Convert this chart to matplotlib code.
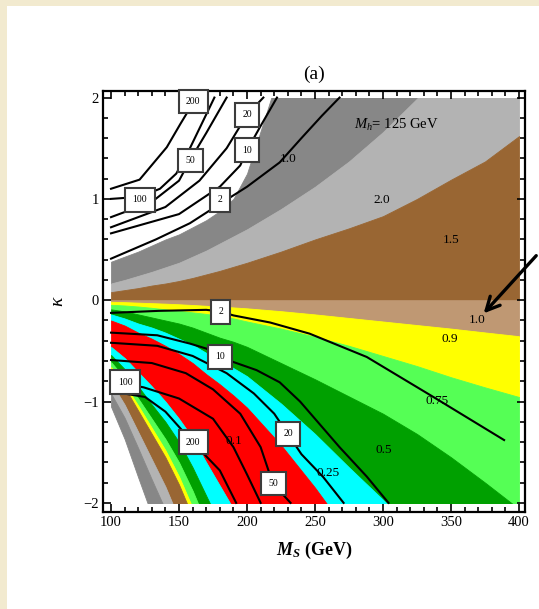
import matplotlib
matplotlib.use('Agg')
import matplotlib.pyplot as plt
from matplotlib.patches import Rectangle
from matplotlib.ticker import MultipleLocator

plt.rcParams['font.family'] = 'Liberation Serif'
plt.rcParams['mathtext.fontset'] = 'custom'
plt.rcParams['mathtext.rm'] = 'Liberation Serif'
plt.rcParams['mathtext.it'] = 'Liberation Serif:italic'
plt.rcParams['mathtext.bf'] = 'Liberation Serif:bold'
try:
    plt.rcParams['mathtext.bfit'] = 'Liberation Serif:bold:italic'
    xlab = r'$\mathbfit{M_S}$ (GeV)'
except KeyError:
    xlab = r'$M_S$ (GeV)'

# boundaries of the coloured regions, read at these M_S values
ms = [100, 110, 120, 130, 140, 150, 160, 170, 180, 190, 200, 225, 250, 275, 300, 325, 350, 375, 400]

# upper half (kappa > 0)
k_white = [0.38, 0.43, 0.48, 0.54, 0.60, 0.65, 0.72, 0.79, 0.88, 1.00, 1.25, 2.30, 2.5, 2.5, 2.5, 2.5, 2.5, 2.5, 2.5]
k_20 = [0.165, 0.20, 0.24, 0.28, 0.325, 0.37, 0.43, 0.49, 0.56, 0.63, 0.70, 0.90, 1.12, 1.37, 1.66, 1.99, 2.35, 2.5, 2.5]
k_15 = [0.08, 0.10, 0.12, 0.145, 0.165, 0.19, 0.22, 0.255, 0.29, 0.33, 0.37, 0.48, 0.60, 0.71, 0.83, 1.00, 1.19, 1.37, 1.62]

# lower half (kappa < 0), from the top down
k_09 = [-0.015, -0.019, -0.024, -0.029, -0.034, -0.04, -0.047, -0.055, -0.063, -0.071, -0.08, -0.108, -0.14, -0.175, -0.21, -0.245, -0.28, -0.318, -0.355]
k_075 = [-0.045, -0.052, -0.062, -0.075, -0.09, -0.105, -0.12, -0.135, -0.155, -0.18, -0.21, -0.28, -0.36, -0.45, -0.55, -0.65, -0.76, -0.86, -0.955]
k_05 = [-0.09, -0.11, -0.14, -0.17, -0.20, -0.23, -0.27, -0.32, -0.37, -0.41, -0.46, -0.62, -0.78, -0.95, -1.12, -1.32, -1.55, -1.80, -2.06]
k_025 = [-0.14, -0.18, -0.23, -0.27, -0.32, -0.38, -0.44, -0.52, -0.59, -0.67, -0.75, -1.02, -1.32, -1.65, -1.97, -2.30, -2.5, -2.5, -2.5]
k_01 = [-0.20, -0.25, -0.32, -0.38, -0.45, -0.53, -0.62, -0.73, -0.83, -0.94, -1.06, -1.43, -1.85, -2.31, -2.5, -2.5, -2.5, -2.5, -2.5]
k_01b = [-0.46, -0.57, -0.71, -0.85, -1.00, -1.17, -1.36, -1.60, -1.83, -2.06, -2.32, -2.5, -2.5, -2.5, -2.5, -2.5, -2.5, -2.5, -2.5]
k_025b = [-0.54, -0.68, -0.85, -1.03, -1.20, -1.40, -1.65, -1.93, -2.21, -2.49, -2.5, -2.5, -2.5, -2.5, -2.5, -2.5, -2.5, -2.5, -2.5]
k_05b = [-0.61, -0.77, -0.97, -1.17, -1.37, -1.60, -1.88, -2.20, -2.5, -2.5, -2.5, -2.5, -2.5, -2.5, -2.5, -2.5, -2.5, -2.5, -2.5]
k_075b = [-0.66, -0.83, -1.04, -1.26, -1.48, -1.74, -2.05, -2.39, -2.5, -2.5, -2.5, -2.5, -2.5, -2.5, -2.5, -2.5, -2.5, -2.5, -2.5]
k_10b = [-0.68, -0.86, -1.09, -1.32, -1.55, -1.82, -2.14, -2.5, -2.5, -2.5, -2.5, -2.5, -2.5, -2.5, -2.5, -2.5, -2.5, -2.5, -2.5]
k_15b = [-0.81, -1.03, -1.30, -1.57, -1.84, -2.16, -2.5, -2.5, -2.5, -2.5, -2.5, -2.5, -2.5, -2.5, -2.5, -2.5, -2.5, -2.5, -2.5]
k_20b = [-0.92, -1.16, -1.46, -1.77, -2.07, -2.44, -2.5, -2.5, -2.5, -2.5, -2.5, -2.5, -2.5, -2.5, -2.5, -2.5, -2.5, -2.5, -2.5]
k_whiteb = [-1.05, -1.37, -1.75, -2.12, -2.48, -2.5, -2.5, -2.5, -2.5, -2.5, -2.5, -2.5, -2.5, -2.5, -2.5, -2.5, -2.5, -2.5, -2.5]

c_dgrey = '#878787'
c_lgrey = '#b3b3b3'
c_brown = '#996633'
c_tan = '#bf9873'
c_yellow = '#ffff00'
c_lgreen = '#55ff55'
c_dgreen = '#00a000'
c_cyan = '#00ffff'
c_red = '#ff0000'

bands = [
    (k_white, k_20, c_dgrey), (k_20, k_15, c_lgrey), (k_15, [0] * len(ms), c_brown),
    ([0] * len(ms), k_09, c_tan), (k_09, k_075, c_yellow), (k_075, k_05, c_lgreen),
    (k_05, k_025, c_dgreen), (k_025, k_01, c_cyan), (k_01, k_01b, c_red),
    (k_01b, k_025b, c_cyan), (k_025b, k_05b, c_dgreen), (k_05b, k_075b, c_lgreen),
    (k_075b, k_10b, c_yellow), (k_10b, k_15b, c_brown), (k_15b, k_20b, c_lgrey),
    (k_20b, k_whiteb, c_dgrey),
]

# black contour lines (labelled 2, 10, 20, 50, 100, 200)
up_2_x = [100, 133, 158, 180, 200, 224, 240, 255, 268]
up_2_y = [0.41, 0.60, 0.76, 0.95, 1.12, 1.36, 1.60, 1.82, 2.0]
up_10_x = [100, 150, 180, 195, 200, 210, 222]
up_10_y = [0.66, 0.85, 1.12, 1.33, 1.48, 1.72, 2.0]
up_20_x = [100, 140, 165, 185, 200, 212]
up_20_y = [0.72, 0.92, 1.18, 1.50, 1.83, 2.0]
up_50_x = [100, 130, 150, 158, 170, 185]
up_50_y = [0.82, 0.97, 1.18, 1.38, 1.65, 2.0]
up_100_x = [100, 121, 136, 148, 158, 167, 176]
up_100_y = [1.00, 1.02, 1.10, 1.25, 1.50, 1.75, 2.0]
up_200_x = [100, 121, 141, 151, 160, 163]
up_200_y = [1.10, 1.19, 1.51, 1.74, 1.94, 2.0]

lo_2_x = [100, 135, 170, 180, 190, 217, 246, 288, 337, 389]
lo_2_y = [-0.125, -0.105, -0.095, -0.11, -0.15, -0.22, -0.33, -0.56, -0.955, -1.38]
lo_10_x = [100, 134, 158, 170, 190, 207, 224, 239, 268, 288, 304]
lo_10_y = [-0.32, -0.346, -0.428, -0.477, -0.61, -0.69, -0.81, -1.0, -1.45, -1.74, -2.0]
lo_20_x = [100, 134, 160, 185, 205, 220, 230, 240, 256, 271]
lo_20_y = [-0.42, -0.45, -0.55, -0.72, -0.92, -1.12, -1.32, -1.52, -1.745, -2.0]
lo_50_x = [100, 130, 155, 175, 195, 210, 219, 232]
lo_50_y = [-0.59, -0.62, -0.72, -0.88, -1.12, -1.45, -1.81, -2.0]
lo_100_x = [100, 124, 150, 175, 190, 200, 210]
lo_100_y = [-0.80, -0.86, -0.97, -1.17, -1.45, -1.72, -2.0]
lo_200_x = [100, 125, 140, 160, 180, 192]
lo_200_y = [-0.90, -0.955, -1.10, -1.40, -1.68, -2.0]

lines = [(up_2_x, up_2_y), (up_10_x, up_10_y), (up_20_x, up_20_y), (up_50_x, up_50_y),
         (up_100_x, up_100_y), (up_200_x, up_200_y), (lo_2_x, lo_2_y), (lo_10_x, lo_10_y),
         (lo_20_x, lo_20_y), (lo_50_x, lo_50_y), (lo_100_x, lo_100_y), (lo_200_x, lo_200_y)]

box_text = ['200', '20', '10', '50', '100', '2', '2', '10', '100', '200', '20', '50']
box_x = [160.5, 200, 200, 158.4, 121.3, 180, 180.6, 180.1, 110.3, 160.5, 230.4, 219.4]
box_y = [1.96, 1.83, 1.48, 1.38, 0.99, 0.99, -0.115, -0.56, -0.81, -1.40, -1.32, -1.81]

level_text = ['1.0', '2.0', '1.5', '1.0', '0.9', '0.75', '0.5', '0.25', '0.1']
level_x = [230.4, 299, 349.8, 368.9, 349.3, 339.5, 300.2, 259.8, 190]
level_y = [1.39, 0.99, 0.59, -0.20, -0.38, -0.99, -1.48, -1.71, -1.39]

fig = plt.figure(figsize=(5.39, 6.09), dpi=100)
fig.patches.append(Rectangle((0, 1 - 6 / 609), 1, 6 / 609, transform=fig.transFigure,
                             fc='#f2eacf', ec='none', zorder=-5))
fig.patches.append(Rectangle((0, 0), 6.5 / 539, 1, transform=fig.transFigure,
                             fc='#f2eacf', ec='none', zorder=-5))

ax = fig.add_axes([0.1911, 0.1593, 0.783, 0.6913])
clip = Rectangle((100, -2), 300, 4, transform=ax.transData)

for top, bot, col in bands:
    p = ax.fill_between(ms, top, bot, color=col, lw=0.6, zorder=1)
    p.set_clip_path(clip)

for x, y in lines:
    ax.plot(x, y, color='black', lw=1.5, zorder=3)

for s, x, y in zip(level_text, level_x, level_y):
    ax.text(x, y, s, ha='center', va='center', fontsize=9.5, zorder=4)

for s, x, y in zip(box_text, box_x, box_y):
    ax.text(x, y, s, ha='center', va='center', fontsize=7, zorder=5,
            bbox=dict(boxstyle='square,pad=0.75', fc='white', ec='#3c3c3c', lw=1.5))

ax.text(310, 1.73, r'$M_h$= 125 GeV', ha='center', va='center', fontsize=10.5, zorder=4)

ax.annotate('', xy=(372.6, -0.15), xytext=(414, 0.46), annotation_clip=False,
            arrowprops=dict(arrowstyle='->', lw=2.4, color='black', mutation_scale=24))

ax.set_xlim(94.1, 404.4)
ax.set_ylim(-2.09, 2.065)
ax.set_xticks([100, 150, 200, 250, 300, 350, 400])
ax.set_yticks([-2, -1, 0, 1, 2])
ax.xaxis.set_minor_locator(MultipleLocator(10))
ax.yaxis.set_minor_locator(MultipleLocator(0.2))
ax.tick_params(which='both', direction='in', top=True, right=True, width=1.2,
               labelsize=10.5, pad=3)
ax.tick_params(which='major', length=6)
ax.tick_params(which='minor', length=3.5)
for sp in ax.spines.values():
    sp.set_linewidth(1.6)

ax.set_title('(a)', fontsize=14, pad=9)
ax.set_xlabel(xlab, fontsize=13, fontweight='bold', labelpad=8)
ax.set_ylabel(r'$\kappa$', fontsize=14, labelpad=12)

fig.savefig('out.png', dpi=100)
